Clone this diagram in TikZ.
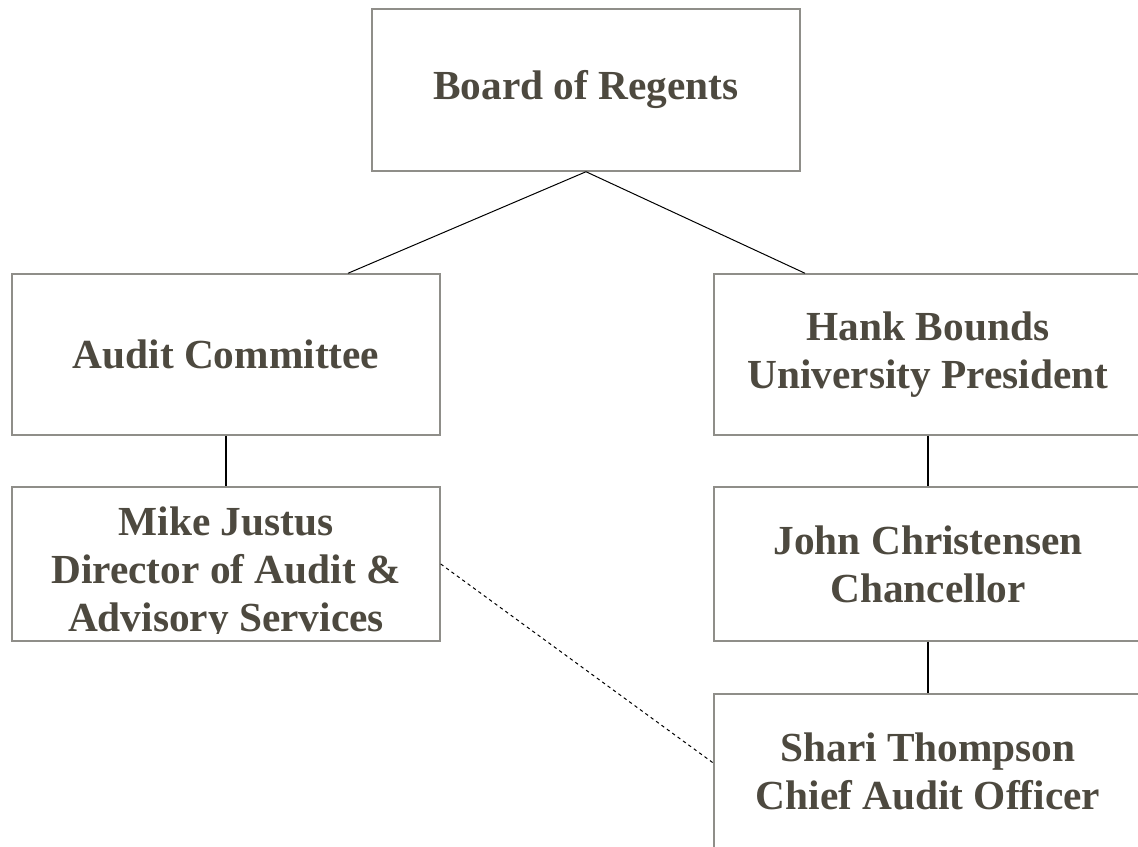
\documentclass[tikz,border=0pt]{standalone}
\usepackage{fontspec}
\setmainfont{Liberation Serif}
\usetikzlibrary{calc}
\definecolor{inkgray}{HTML}{4D493F}
\definecolor{framegray}{HTML}{8F8E89}

\begin{document}
\begin{tikzpicture}[x=0.75pt,y=-0.75pt,
    office/.style={rectangle,draw=framegray,line width=1.1pt,
    minimum width=321pt,inner sep=0pt,text=inkgray,align=center,
    font=\bfseries\fontsize{31}{36}\selectfont},
    roletext/.style={text=inkgray,align=center,inner sep=0pt,
    font=\bfseries\fontsize{31}{36}\selectfont},
    branch/.style={draw=black,line width=0.75pt},
    stem/.style={draw=black,line width=1.3pt},
    dotlink/.style={draw=black,line width=0.75pt,dash pattern=on 2.5pt off 2.5pt}
    ]
\useasboundingbox (0,0) rectangle (1138,846);
\clip (0,0) rectangle (1138,846);

\node[office,minimum height=121.5pt] (regents) at (586,90) {Board of Regents};
\node[office,minimum height=120.75pt] (committee) at (226,354.5) {Audit Committee};
\node[office,minimum height=120.75pt] (president) at (928,354.5) {Hank Bounds\\University President};
\node[office,minimum height=115.5pt] (director) at (226,564) {};
\node[office,minimum height=115.5pt] (chancellor) at (928,564) {John Christensen\\Chancellor};
\node[office,minimum height=116pt] (cao) at (928,771.5) {Shari Thompson\\Chief Audit Officer};

\begin{scope}
\clip (director.north west) rectangle ($(director.south east)+(0,-8)$);
\node[roletext] (directortext) at (226,574) {Mike Justus\\Director of Audit \&\\Advisory Services};
\end{scope}

\draw[branch] (regents.south) -- ($(committee.north)+(122,0)$);
\draw[branch] (regents.south) -- ($(president.north)+(-123,0)$);
\draw[stem] (committee.south) -- (director.north);
\draw[stem] (president.south) -- (chancellor.north);
\draw[stem] (chancellor.south) -- (cao.north);
\draw[dotlink] (director.east) -- ($(cao.west)+(0,-8.5)$);
\end{tikzpicture}
\end{document}
